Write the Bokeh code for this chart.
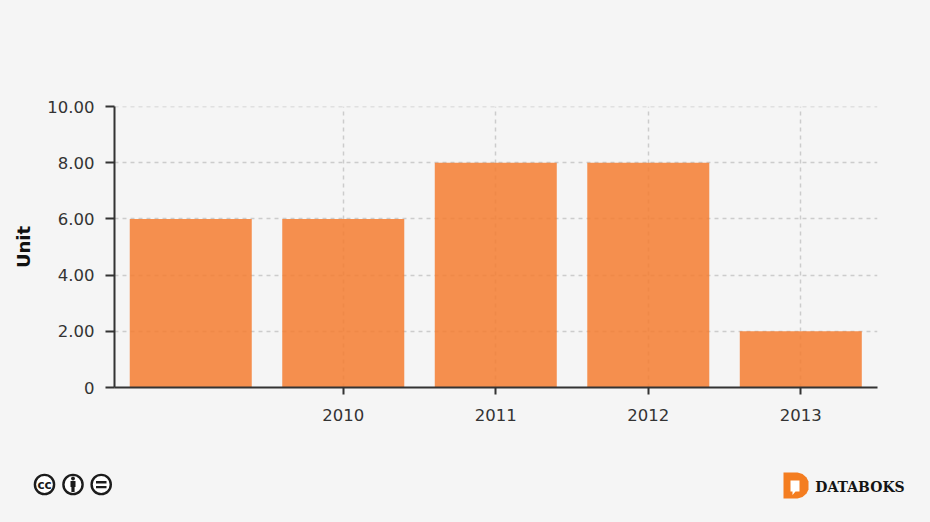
from bokeh.embed import file_html
from bokeh.resources import INLINE
from bokeh.plotting import figure
from bokeh.layouts import column
from bokeh.core.properties import value
from bokeh.models import ColumnDataSource, FixedTicker, Range1d

years = [2009, 2010, 2011, 2012, 2013]
units = [6, 6, 8, 8, 2]
x_ticks = [2010, 2011, 2012, 2013]
y_ticks = [0, 2, 4, 6, 8, 10]
y_labels = {0: "0", 2: "2.00", 4: "4.00", 6: "6.00", 8: "8.00", 10: "10.00"}

BG = "#f5f5f5"
INK = "#333333"
FONT = "DejaVu Sans"

p = figure(width=930, height=450, output_backend="svg", toolbar_location=None,
           x_range=Range1d(2008.5, 2013.503), y_range=Range1d(0, 10.004),
           frame_width=763, frame_height=281, frame_align=False,
           min_border_left=114, min_border_top=106, min_border_right=53, min_border_bottom=63,
           background_fill_color=BG, border_fill_color=BG, outline_line_color=None)

src = ColumnDataSource(dict(x=years, top=units))
p.vbar(x="x", top="top", width=0.8, bottom=0, source=src,
       fill_color="#f47d30", fill_alpha=0.85, line_color=None)

for ax, ticks in ((p.xaxis[0], x_ticks), (p.yaxis[0], y_ticks)):
    ax.ticker = FixedTicker(ticks=ticks)
    ax.axis_line_color = INK
    ax.axis_line_width = 2
    ax.major_tick_line_color = INK
    ax.major_tick_line_width = 2
    ax.major_tick_in = 0
    ax.minor_tick_line_color = None
    ax.major_label_text_font = FONT
    ax.major_label_text_font_size = "16.5px"
    ax.major_label_text_color = INK

p.xaxis[0].major_tick_out = 7
p.xaxis[0].major_label_standoff = 14
p.yaxis[0].major_tick_out = 9
p.yaxis[0].major_label_standoff = 11
p.yaxis[0].major_label_overrides = y_labels
p.yaxis[0].axis_label = "Unit"
p.yaxis[0].axis_label_text_font = FONT
p.yaxis[0].axis_label_text_font_style = "bold"
p.yaxis[0].axis_label_text_font_size = "18px"
p.yaxis[0].axis_label_text_color = "#111111"
p.yaxis[0].axis_label_standoff = 10

for g in (p.xgrid[0], p.ygrid[0]):
    g.grid_line_color = "#cccccc"
    g.grid_line_dash = "4 4"
    g.grid_line_width = 1.5
    g.level = "underlay"
p.xgrid[0].ticker = FixedTicker(ticks=x_ticks)
p.ygrid[0].ticker = FixedTicker(ticks=y_ticks)

# Footer strip: licence icons and publisher logo, one unit per page pixel
f = figure(width=930, height=72, output_backend="svg", toolbar_location=None,
           x_range=Range1d(0, 930), y_range=Range1d(522, 450),
           frame_width=930, frame_height=72, frame_align=False,
           min_border=0, min_border_left=0, min_border_right=0, min_border_top=0, min_border_bottom=0,
           background_fill_color=BG, border_fill_color=BG, outline_line_color=None,
           x_axis_location=None, y_axis_location=None)
f.grid.visible = False

DARK = "#1c1c1c"
f.circle(x=[44, 72.5, 100.7], y=[484, 484, 484], radius=9.6,
         fill_color="#ffffff", line_color=DARK, line_width=2.4)
f.text(x=[44], y=[484.3], text=["cc"], text_font=value(FONT), text_font_style="bold",
       text_font_size="12px", text_color=DARK, text_align="center", text_baseline="middle")
f.circle(x=[72.5], y=[478], radius=1.9, fill_color=DARK, line_color=None)
f.quad(left=[70], right=[75], top=[480.5], bottom=[486.5], fill_color=DARK, line_color=None)
f.quad(left=[70.9], right=[74.1], top=[486], bottom=[491.5], fill_color=DARK, line_color=None)
f.quad(left=[95.5, 95.5], right=[106, 106], top=[480.6, 485.4], bottom=[483, 487.8],
       fill_color=DARK, line_color=None)

f.patch(x=[783, 797, 802, 806, 808, 808, 806, 802, 797, 783],
        y=[472, 472, 473.5, 477, 481, 489, 493, 496.5, 498, 498], fill_color="#f47d20", line_color=None)
f.patch(x=[790, 799, 799, 795, 792, 792, 790],
        y=[480, 480, 491, 491, 494.5, 491, 491], fill_color="#ffffff", line_color=None)
f.text(x=[859.5], y=[486], text=["DATABOKS"], text_font=value("DejaVu Serif"), text_font_style="bold",
       text_font_size="14px", text_color="#141414", text_align="center", text_baseline="middle")

layout = column(p, f, spacing=0)
html = file_html(layout, INLINE)
html = html.replace("<head>", f"<head><style>html,body{{background:{BG};overflow:hidden}}</style>", 1)
open("out.html", "w").write(html)
